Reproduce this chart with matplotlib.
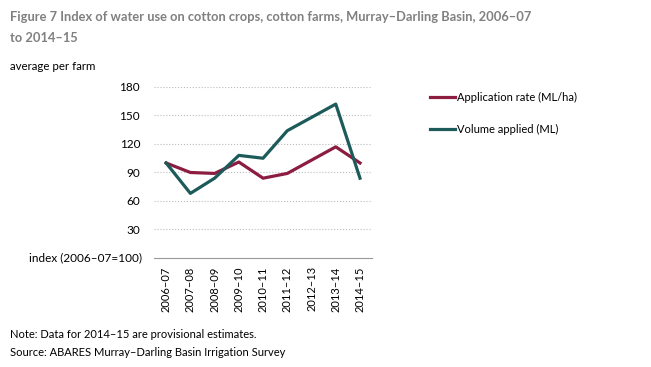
import matplotlib.pyplot as plt
import numpy as np

plt.rcParams['font.family'] = ['Lato', 'DejaVu Sans']

years = ['2006–07', '2007–08', '2008–09', '2009–10', '2010–11',
         '2011–12', '2012–13', '2013–14', '2014–15']
app_rate = [100, 90, 89, 101, 84, 89, 103, 117, 100]
volume = [100, 68, 84, 108, 105, 134, 148, 162, 84]
yticks = [30, 60, 90, 120, 150, 180]

fig = plt.figure(figsize=(6.51, 3.67), dpi=100)
ax = fig.add_axes([0.2366, 0.297, 0.335, 0.466])

x = np.arange(len(years))
ax.plot(x, app_rate, color='#8c1d40', lw=2.3, label='Application rate (ML/ha)')
ax.plot(x, volume, color='#1c5b5a', lw=2.3, label='Volume applied (ML)')

ax.set_xlim(-0.5, 8.5)
ax.set_ylim(0, 180)
ax.set_yticks(yticks)
ax.set_yticklabels([str(v) for v in yticks], fontsize=8.5)
ax.set_xticks(x)
ax.set_xticklabels(years, rotation=90, fontsize=8)
ax.tick_params(length=0, pad=10, axis='y')
ax.tick_params(length=0, pad=6, axis='x')
ax.grid(axis='y', linestyle=':', color='#bbbbbb', lw=0.8)
for s in ['top', 'right', 'left']:
    ax.spines[s].set_visible(False)
ax.spines['bottom'].set_color('#999999')
ax.set_axisbelow(True)

fig.text(0.218, 1 - 258/367, 'index (2006–07=100)', ha='right',
         va='center', fontsize=8.5)

leg = ax.legend(loc='upper left', bbox_to_anchor=(1.22, 1.03), frameon=False,
                fontsize=8, handlelength=2.2, handletextpad=0.2, labelspacing=1.9)

fig.text(0.015, 1 - 17/367, 'Figure 7 Index of water use on cotton crops, cotton farms, Murray–Darling Basin, 2006–07',
         fontsize=9.3, fontweight='bold', color='#808080', va='center')
fig.text(0.015, 1 - 38/367, 'to 2014–15', fontsize=9.3, fontweight='bold',
         color='#808080', va='center')
fig.text(0.015, 1 - 67/367, 'average per farm', fontsize=8.3, va='center')
fig.text(0.015, 1 - 335/367, 'Note: Data for 2014–15 are provisional estimates.',
         fontsize=8, va='center')
fig.text(0.015, 1 - 352/367, 'Source: ABARES Murray–Darling Basin Irrigation Survey',
         fontsize=8, va='center')

fig.savefig('out.png', dpi=100)
